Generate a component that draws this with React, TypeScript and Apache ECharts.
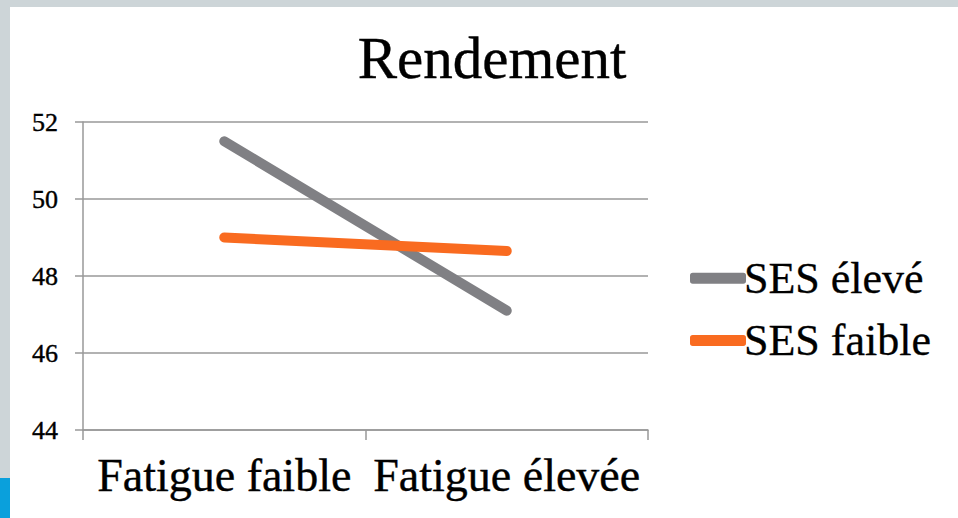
import React, { useEffect, useRef } from "react";
import * as echarts from "echarts";

const categories = ["Fatigue faible", "Fatigue élevée"];
const sesEleve = [51.5, 47.1];
const sesFaible = [49.0, 48.65];
const seriesNames = ["SES élevé", "SES faible"];
const titleText = "Rendement";

export default function App() {
  const ref = useRef<HTMLDivElement>(null);
  useEffect(() => {
    document.body.style.margin = "0";
    const chart = echarts.init(ref.current!, null, { renderer: "svg" });
    const serif = "Liberation Serif";
    chart.setOption({
      animation: false,
      backgroundColor: "#ffffff",
      graphic: [
        { type: "rect", z: -10, shape: { x: 0, y: 0, width: 958, height: 7 }, style: { fill: "#CDD5D8" } },
        { type: "rect", z: -10, shape: { x: 0, y: 0, width: 10, height: 478 }, style: { fill: "#CDD5D8" } },
        { type: "rect", z: -10, shape: { x: 0, y: 478, width: 10, height: 40 }, style: { fill: "#0AA0DC" } },
      ],
      title: {
        text: titleText,
        left: 487,
        textAlign: "center",
        top: 23,
        textStyle: { fontFamily: serif, fontSize: 59, fontWeight: "normal", color: "#000", textBorderColor: "#000", textBorderWidth: 0.4 },
      },
      legend: {
        orient: "vertical",
        left: 685,
        top: 251,
        itemWidth: 56,
        itemHeight: 11,
        itemGap: 18,
        icon: "roundRect",
        textStyle: { fontFamily: serif, fontSize: 44, color: "#000", padding: [0, 0, 0, -7], textBorderColor: "#000", textBorderWidth: 0.3 },
        data: seriesNames,
      },
      grid: { left: 83, right: 310, top: 122, bottom: 88, containLabel: false },
      xAxis: {
        type: "category",
        data: categories,
        boundaryGap: true,
        axisLine: { lineStyle: { color: "#999", width: 1.5 } },
        axisTick: { show: true, length: 10, lineStyle: { color: "#999", width: 1.5 } },
        axisLabel: { fontFamily: serif, fontSize: 46, color: "#000", margin: 22, interval: 0, textBorderColor: "#000", textBorderWidth: 0.4 },
      },
      yAxis: {
        type: "value",
        min: 44,
        max: 52,
        interval: 2,
        axisLine: { show: true, lineStyle: { color: "#999", width: 1.5 } },
        axisTick: { show: true, length: 8, lineStyle: { color: "#999", width: 1.5 } },
        splitLine: { lineStyle: { color: "#999", width: 1.5 } },
        axisLabel: { fontFamily: serif, fontSize: 26, color: "#000", margin: 25, textBorderColor: "#000", textBorderWidth: 0.4 },
      },
      series: [
        {
          name: seriesNames[0],
          type: "line",
          data: sesEleve,
          symbol: "none",
          color: "#808084",
          lineStyle: { width: 10, cap: "round", color: "#808084" },
        },
        {
          name: seriesNames[1],
          type: "line",
          data: sesFaible,
          symbol: "none",
          color: "#F96B20",
          lineStyle: { width: 10, cap: "round", color: "#F96B20" },
        },
      ],
    });
    return () => chart.dispose();
  }, []);
  return <div ref={ref} style={{ width: 958, height: 518 }} />;
}
